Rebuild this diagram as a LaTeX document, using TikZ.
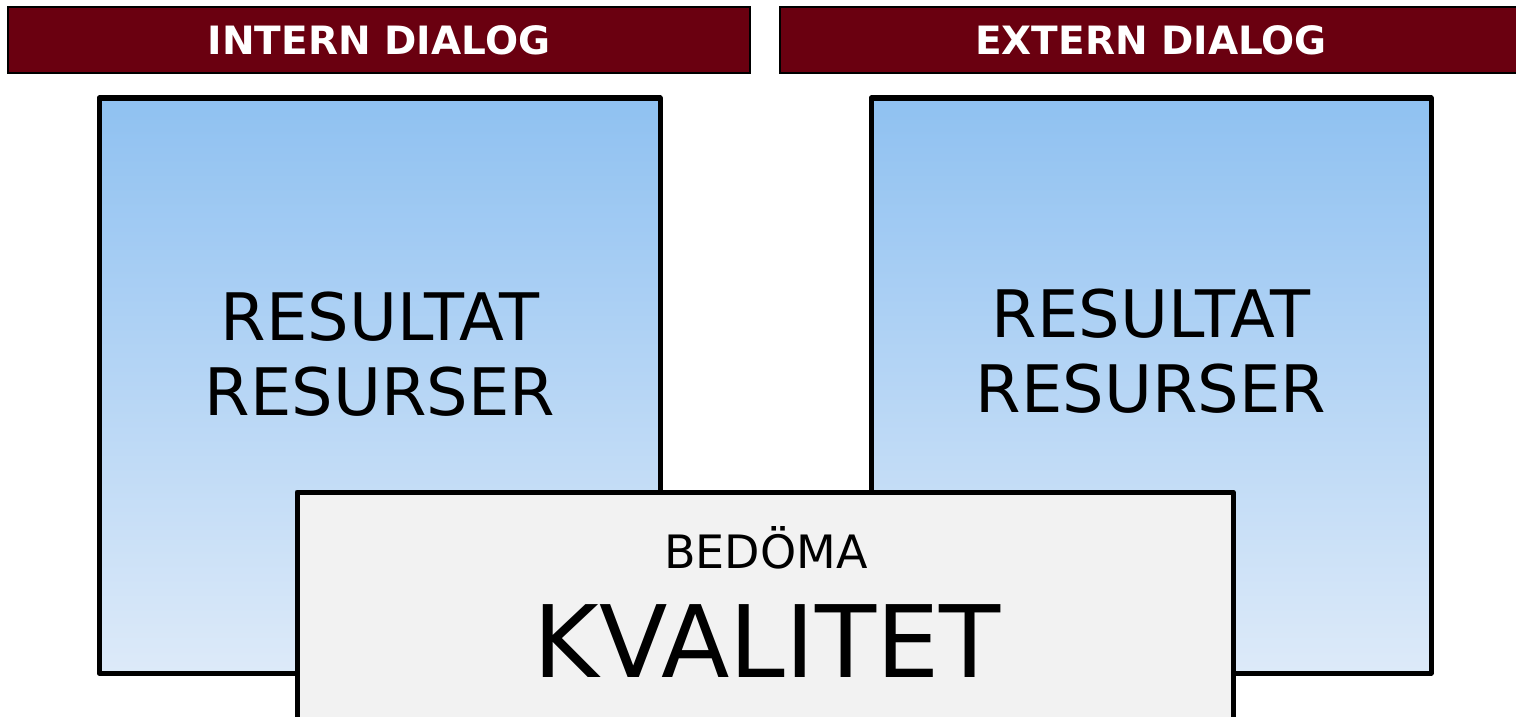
\documentclass[tikz,border=0pt]{standalone}
\usepackage{fontspec}
\setmainfont{DejaVu Sans}
\definecolor{hdr}{HTML}{6A0010}
\definecolor{btop}{HTML}{8FC1F1}
\definecolor{bbot}{HTML}{DDEAF9}
\definecolor{gfill}{HTML}{F2F2F2}
\tikzset{
  header/.style={draw=black, line width=1.5pt, fill=hdr},
  bluebox/.style={draw=black, line width=5pt, line join=round, top color=btop, bottom color=bbot},
  greybox/.style={draw=black, line width=5pt, line join=round, fill=gfill},
  htext/.style={anchor=base, text=white, font=\bfseries\fontsize{39}{46}\selectfont, inner sep=0pt},
  btext/.style={anchor=base, font=\fontsize{65.5}{75}\selectfont, inner sep=0pt},
}
\begin{document}
\begin{tikzpicture}[x=1pt,y=-1pt]
\useasboundingbox (0,0) rectangle (1516,717);
\clip (0,0) rectangle (1516,717);
\fill[white] (0,0) rectangle (1516,717);
% headers
\draw[header] (8,7) rectangle (750,73);
\draw[header] (780,7) rectangle (1530,73);
\node[htext] (h1) at (379,55) {INTERN DIALOG};
\node[htext] (h2) at (1151,55) {EXTERN DIALOG};
% blue boxes
\draw[bluebox] (99,98) rectangle (660,673);
\draw[bluebox] (871,98) rectangle (1431,673);
\node[btext] (l1) at (380,340) {RESULTAT};
\node[btext] (l2) at (380,415) {RESURSER};
\node[btext] (r1) at (1151,337) {RESULTAT};
\node[btext] (r2) at (1151,412) {RESURSER};
% grey box
\draw[greybox] (297,492) rectangle (1233,730);
\node[anchor=base, inner sep=0pt, font=\fontsize{46}{55}\selectfont] (bed) at (766,568) {BEDÖMA};
\node[anchor=base, inner sep=0pt, font=\fontsize{100}{120}\selectfont] (kv) at (767,677) {KVALITET};
\end{tikzpicture}
\end{document}
